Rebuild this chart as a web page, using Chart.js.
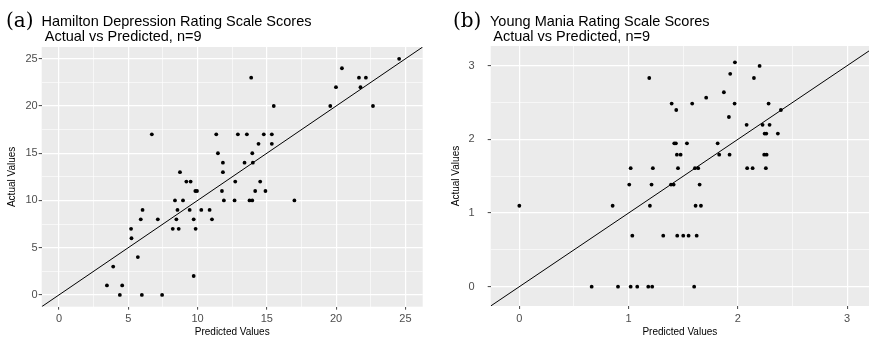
<!DOCTYPE html>
<html>
<head>
<meta charset="utf-8">
<script src="https://cdn.jsdelivr.net/npm/chart.js@4.4.1/dist/chart.umd.min.js"></script>
<style>
  body{margin:0;background:#fff;width:869px;height:338px;position:relative;overflow:hidden;font-family:"Liberation Sans",Arial,sans-serif}
  canvas{position:absolute;top:0}
  .tag{position:absolute;font-family:"DejaVu Serif",serif;font-size:20px;line-height:20px;color:#000}
  .ttl{position:absolute;font-size:14.5px;line-height:15px;white-space:pre;color:#000}
</style>
</head>
<body>
<canvas id="chart-a" width="430" height="338" style="left:0"></canvas>
<canvas id="chart-b" width="433" height="338" style="left:436px"></canvas>
<div class="tag" style="left:6px;top:9.5px">(a)</div>
<div class="ttl" style="left:41.5px;top:14px">Hamilton Depression Rating Scale Scores
 Actual vs Predicted, n=9</div>
<div class="tag" style="left:453px;top:9.5px">(b)</div>
<div class="ttl" style="left:490px;top:14px">Young Mania Rating Scale Scores
 Actual vs Predicted, n=9</div>
<script>
// (a) HAMD: predicted vs actual
const hamdPred = [3.46,3.91,4.39,4.56,5.20,5.23,5.69,5.98,5.90,6.03,6.70,7.13,7.44,8.21,8.37,8.47,8.55,8.64,8.73,8.95,
  9.19,9.43,9.50,9.72,9.72,9.84,9.86,9.96,10.27,10.87,11.04,11.35,11.47,11.76,11.83,11.83,11.90,12.67,12.72,12.91,
  13.39,13.56,13.75,13.87,13.95,13.95,13.99,14.16,14.40,14.52,14.78,14.90,15.36,15.36,15.50,16.99,19.58,19.99,20.42,21.65,
  21.76,22.15,22.66,24.55];
const hamdActual = [1,3,0,1,7,6,4,0,8,9,17,8,0,7,10,8,9,7,13,10,
  12,9,12,2,8,11,7,11,9,9,8,17,15,11,14,13,10,10,12,17,
  14,17,10,23,15,10,14,11,16,12,17,11,17,16,20,10,20,22,24,23,
  22,23,20,25];

// (b) YMRS (log scale values)
const ymrsPred = [0.000,0.662,0.854,0.903,1.006,1.019,1.019,1.034,1.079,1.180,1.216,1.195,1.210,1.189,1.222,1.317,1.388,1.412,1.394,1.418,
  1.433,1.436,1.442,1.476,1.445,1.452,1.500,1.534,1.549,1.582,1.600,1.607,1.613,1.623,1.637,1.650,1.662,1.710,1.815,1.829,
  1.872,1.918,1.924,1.930,1.970,1.973,2.080,2.085,2.135,2.147,2.199,2.226,2.241,2.245,2.256,2.260,2.263,2.281,2.290,2.366,
  2.394];
const ymrsActual = [1.099,0,1.099,0,1.386,0,1.609,0.693,0,0,0,1.099,1.386,2.833,1.609,0.693,1.386,1.386,2.485,1.946,
  1.946,2.398,1.792,1.792,0.693,1.609,0.693,1.946,0.693,2.485,0,1.609,1.099,0.693,1.609,1.386,1.099,2.565,1.946,1.792,
  2.639,2.303,1.792,2.890,2.485,3.045,2.197,1.609,1.609,2.833,2.996,2.197,1.792,2.079,1.609,2.079,1.792,2.485,2.197,2.079,
  2.398];

// ticks and grid
const hamdTicks = [0,5,10,15,20,25];
const hamdMinor = [2.5,7.5,12.5,17.5,22.5];
const ymrsTicks = [0,1,2,3];
const ymrsMinor = [0.5,1.5,2.5];

// axis limits, also the ends of the y = x line
const hamdLim = [-1.25, 26.25];
const ymrsLimX = [-0.262, 3.2];
const ymrsLimY = [-0.262, 3.267];

Chart.defaults.font.family = '"Liberation Sans", Arial, sans-serif';

const panelBg = {
  id: "panelBg",
  beforeDraw(chart){
    const {ctx, chartArea:a} = chart;
    ctx.save();
    ctx.fillStyle = "#EBEBEB";
    ctx.fillRect(a.left, a.top, a.right - a.left, a.bottom - a.top);
    ctx.restore();
  }
};

function axis(lim, major, minor, title, o){
  return {
    type: "linear", min: lim[0], max: lim[1],
    afterBuildTicks: s => {
      s.ticks = [...major, ...minor].filter(v => v >= lim[0] && v <= lim[1]).sort((a,b)=>a-b).map(v => ({value: v}));
    },
    afterFit: s => { if(o.width) s.width = o.width; if(o.height) s.height = o.height; },
    ticks: {
      callback: v => major.includes(v) ? String(v) : "",
      color: "#4D4D4D", font: {size: 11}, padding: o.pad, autoSkip: false, maxRotation: 0
    },
    grid: {
      color: "#fff",
      lineWidth: c => major.includes(c.tick.value) ? 1.2 : 0.6,
      tickLength: 3, tickWidth: 1,
      tickColor: c => major.includes(c.tick.value) ? "#444" : "rgba(0,0,0,0)"
    },
    border: {display: false},
    title: {display: true, text: title, color: "#000", font: {size: 10}, padding: o.tpad}
  };
}

function makeChart(id, xs, ys, limX, limY, major, minor, cfg){
  const pts = xs.map((x, i) => ({x, y: ys[i]}));
  const lo = Math.min(limX[0], limY[0]), hi = Math.max(limX[1], limY[1]);
  return new Chart(document.getElementById(id), {
    type: "scatter",
    data: {datasets: [
      {data: [{x: lo, y: lo}, {x: hi, y: hi}], showLine: true, borderColor: "#000", borderWidth: 1, pointRadius: 0},
      {data: pts, backgroundColor: "#000", borderWidth: 0, pointRadius: 1.9}
    ]},
    options: {
      responsive: false, animation: false, devicePixelRatio: 1,
      layout: {padding: cfg.padding, autoPadding: false},
      plugins: {legend: {display: false}, tooltip: {enabled: false}},
      scales: {
        x: axis(limX, major, minor, "Predicted Values", {height: cfg.xh, pad: 3, tpad: {top: 0, bottom: 0}}),
        y: axis(limY, major, minor, "Actual Values", {width: cfg.yw, pad: cfg.ypad, tpad: {top: cfg.ytpad, bottom: 0}})
      }
    },
    plugins: [panelBg]
  });
}

makeChart("chart-a", hamdPred, hamdActual, hamdLim, hamdLim, hamdTicks, hamdMinor,
  {padding: {top: 47, right: 7.3, left: 0, bottom: 0}, xh: 31.3, yw: 41.7, ypad: 1, ytpad: 6.5});
makeChart("chart-b", ymrsPred, ymrsActual, ymrsLimX, ymrsLimY, ymrsTicks, ymrsMinor,
  {padding: {top: 46, right: 0, left: 0, bottom: 0}, xh: 32, yw: 54.7, ypad: 13, ytpad: 14});
</script>
</body>
</html>
